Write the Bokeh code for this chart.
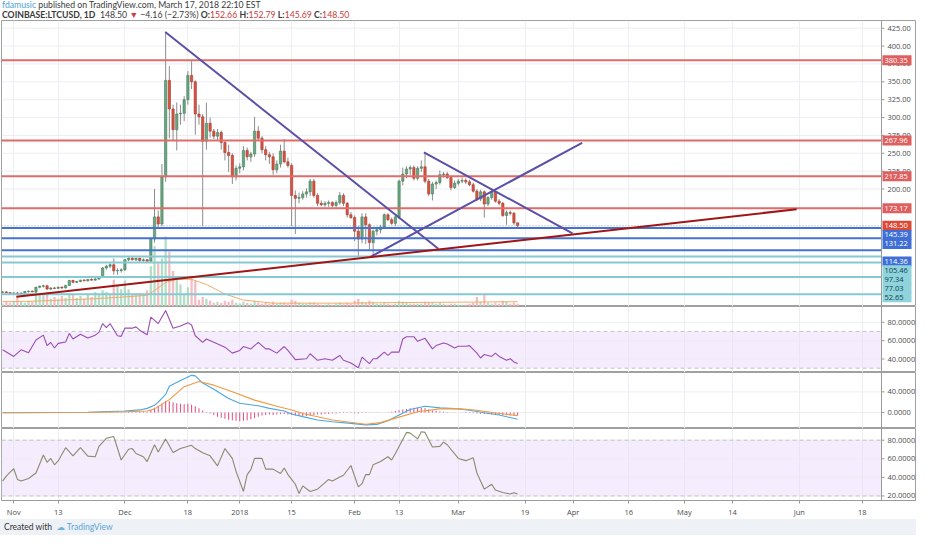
import numpy as np
from bokeh.plotting import figure
from bokeh.models import (Range1d, FixedTicker, Span, BoxAnnotation, Div, Grid, ColumnDataSource)
from bokeh.layouts import column
from bokeh.embed import file_html
from bokeh.resources import INLINE
from bokeh.core.properties import value

# ---------------- data (day 0 = 2017-11-01) ----------------
days = list(range(-3, 137))
opens = [55.5, 56, 55, 54, 54.5, 53.5, 54.5, 56.5, 57, 56,
         62.5, 64, 64.5, 60, 61.5, 61, 62.5, 61.5, 65, 72,
         69.5, 70.5, 72.5, 71.5, 73.5, 72.5, 74, 77, 89.5, 92,
         94, 85.5, 86, 87, 101, 103, 101, 103, 100, 101,
         99, 130, 161, 151, 217, 352, 312, 283, 305, 306,
         325, 359, 350, 305, 301, 267, 292, 281, 274, 279,
         265, 251, 247, 217, 229, 231, 254, 245, 249, 281,
         271, 255, 248, 245, 227, 235, 253, 238, 233, 191,
         187, 188, 193, 196, 211, 191, 180, 178, 180, 181,
         177, 181, 191, 180, 164, 160, 141, 130, 161, 150,
         125, 141, 143, 147, 164, 157, 152, 161, 211, 221,
         228, 230, 215, 229, 231, 211, 193, 207, 209, 220,
         221, 216, 202, 208, 211, 212, 210, 206, 197, 186,
         196, 179, 188, 196, 183, 180, 163, 167, 166, 152.66]
highs = [57, 57, 56, 55.5, 56, 55, 57, 58, 58, 63,
         65, 66, 66, 62.5, 63, 63.5, 64, 66, 73, 73,
         71.5, 73, 74, 74, 75, 75.5, 78, 91, 94, 96,
         103, 89, 89, 102, 106, 105, 104, 104, 103, 102,
         132, 200, 170, 235, 420, 372, 318, 321, 318, 330,
         365, 379, 352, 318, 305, 321, 300, 284, 284, 282,
         268, 262, 250, 233, 236, 260, 258, 252, 301, 288,
         274, 260, 252, 250, 240, 262, 270, 244, 236, 198,
         195, 197, 201, 214, 214, 194, 184, 183, 184, 183,
         184, 196, 194, 182, 168, 163, 148, 166, 166, 152,
         143, 146, 150, 166, 166, 160, 163, 213, 230, 232,
         233, 233, 232, 240, 251, 214, 210, 212, 226, 224,
         224, 218, 212, 214, 216, 215, 213, 209, 200, 199,
         198, 190, 198, 198, 186, 182, 170, 170, 168, 152.79]
lows = [54, 54.5, 53, 52.5, 53, 52.5, 54, 55, 55.5, 55,
        61, 62, 59, 58.5, 60, 60, 60.5, 61, 64.5, 68,
        68.5, 69.5, 71, 70.5, 72, 72, 73, 76, 87, 89,
        80, 80, 83, 85, 99, 100, 99, 98, 98, 97,
        98, 125, 145, 148, 210, 271, 267, 254, 290, 295,
        318, 340, 276, 290, 148, 255, 272, 270, 268, 255,
        240, 224, 207, 212, 222, 226, 240, 238, 245, 268,
        250, 240, 235, 220, 222, 230, 236, 230, 148, 137,
        180, 185, 188, 190, 188, 176, 176, 175, 175, 174,
        174, 178, 176, 160, 158, 127, 106, 124, 123, 114,
        106, 135, 138, 144, 155, 150, 148, 158, 205, 215,
        220, 212, 212, 224, 208, 190, 184, 200, 206, 216,
        214, 198, 200, 205, 208, 207, 204, 195, 183, 183,
        160, 176, 185, 181, 177, 161, 150, 163, 150, 145.69]
closes = [56, 55, 54, 54.5, 53.5, 54.5, 56.5, 57, 56, 62.5,
          64, 64.5, 60, 61.5, 61, 62.5, 61.5, 65, 72, 69.5,
          70.5, 72.5, 71.5, 73.5, 72.5, 74, 77, 89.5, 92, 94,
          85.5, 86, 87, 101, 103, 101, 103, 100, 101, 99,
          130, 161, 151, 217, 352, 312, 283, 305, 306, 325,
          359, 350, 305, 301, 267, 292, 281, 274, 279, 265,
          251, 247, 217, 229, 231, 254, 245, 249, 281, 271,
          255, 248, 245, 227, 235, 253, 238, 233, 191, 187,
          188, 193, 196, 211, 191, 180, 178, 180, 181, 177,
          181, 191, 180, 164, 160, 141, 130, 161, 150, 125,
          141, 143, 147, 164, 157, 152, 161, 211, 221, 228,
          230, 215, 229, 231, 211, 193, 207, 209, 220, 221,
          216, 202, 208, 211, 212, 210, 206, 197, 186, 196,
          179, 188, 196, 183, 180, 163, 167, 166, 152.66, 148.50]
volume = [3, 5, 4, 6, 10, 5, 4, 6, 5, 15,
          13, 12, 13, 8, 10, 8, 11, 9, 14, 13,
          9, 11, 8, 12, 10, 15, 12, 17, 15, 12,
          28, 23, 18, 27, 18, 13, 12, 14, 13, 17,
          42, 63, 45, 50, 73, 57, 37, 30, 23, 13,
          20, 32, 27, 7, 10, 8, 6, 4, 5, 4,
          6, 5, 7, 4, 3, 5, 4, 3, 6, 4,
          3, 4, 3, 5, 3, 4, 4, 3, 7, 6,
          4, 3, 3, 4, 4, 3, 2, 2, 3, 2,
          3, 4, 3, 4, 3, 6, 8, 5, 4, 6,
          5, 3, 3, 4, 3, 2, 3, 6, 5, 4,
          3, 3, 3, 3, 5, 4, 4, 3, 4, 3,
          2, 3, 3, 2, 2, 2, 3, 4, 10, 5,
          12, 4, 3, 4, 3, 6, 5, 3, 4, 3]
vol_ma_day = [-3, 5, 15, 23, 30, 36, 38, 41, 44, 48, 52, 57, 62, 70, 90, 100, 120, 136]
vol_ma_val = [5, 5.5, 7, 8.3, 10, 11.7, 16.7, 25, 28.3, 28.3, 23, 13, 6.7, 3.5, 3.5, 4, 4.5, 5]

red_levels = [380.35, 267.96, 217.85, 173.17]
blue_levels = [145.39, 131.22, 114.36]
cyan_levels = [105.46, 97.34, 77.03, 52.65]
last_price = 148.50

trend_x0 = [40.9, 110.7, 96.4, 0.7]
trend_y0 = [419.7, 251.2, 105.3, 49.1]
trend_x1 = [114.6, 150.8, 153.4, 211.3]
trend_y1 = [116.4, 138.0, 264.7, 171.7]

rsi_day = [-3, 0, 2, 4, 6, 8, 9, 10, 11, 12, 14, 15, 16, 18, 20, 22, 23, 24, 25, 26,
           28, 29, 30, 32, 33, 34, 36, 37, 39, 41, 43, 45, 47, 48, 49, 51, 52, 54, 57, 59,
           61, 62, 64, 66, 68, 69, 71, 73, 74, 76, 79, 80, 82, 84, 86, 88, 89, 91, 93, 94,
           96, 97, 98, 100, 101, 102, 104, 105, 106, 108, 109, 111, 113, 114, 116, 117, 119, 120, 122, 123,
           125, 126, 127, 129, 130, 131, 133, 134, 135, 136]
rsi_val = [50, 42.8, 50, 46.8, 60.7, 66, 54.6, 58, 52, 57, 58.5, 67.9, 61.8, 67, 62.8, 66, 69, 78.6, 74.3, 78.6,
           65.3, 64.7, 73.6, 73.6, 75, 71.4, 66.4, 85.7, 78.6, 92.9, 73.6, 76, 79.6, 77, 65.3, 58.2, 61.8, 58.2, 52.9, 46.4,
           49.3, 53.6, 51, 58.2, 51, 51, 46.4, 53.6, 49.3, 39.3, 40.3, 45.7, 38.6, 40.3, 38.6, 43.9, 38.6, 35.7, 30.4, 42.1,
           35, 40.3, 40.3, 47.5, 43.9, 47.5, 47.5, 61.8, 64.3, 64.3, 59.3, 62.5, 51, 54.6, 57.5, 56.4, 52.1, 53.9, 53.9, 54.6,
           46.4, 41.1, 45, 42.8, 46.4, 42.8, 38.6, 40.3, 36.8, 35]

macd_day = [-3, 10, 20, 30, 34, 36, 38, 39, 41, 42, 45, 48, 49, 51, 54, 58, 61, 66, 69, 73,
            75, 78, 82, 86, 91, 95, 98, 101, 104, 107, 111, 115, 119, 123, 127, 131, 136]
macd_val = [-0.5, 0, 0.5, 3, 5, 8, 14, 20, 35, 51, 62, 72, 71, 57, 45, 27, 18, 13, 8, 3,
            -3, -8, -14.5, -18, -21, -24, -23, -16, -5, 5.7, 12, 9, 7.6, 4.5, -0.6, -5, -13]
signal_day = [-3, 20, 30, 36, 38, 42, 46, 50, 54, 59, 65, 71, 75, 78, 86, 95, 99, 104, 109, 115,
              120, 125, 130, 136]
signal_val = [-0.5, 0, 1.5, 3, 7, 25, 50, 60, 53, 40, 24, 12, 5, -2, -14.5, -22.8, -19.6, -9, 1.5, 7,
              7.6, 4.5, -1, -6]
macd_hist = [0.3, 0.3, 0.4, 0.4, 0.5, 0.5, 0.5, 0.6, 0.6, 0.8,
             0.8, 0.8, 0.7, 0.7, 0.7, 0.8, 0.8, 0.9, 1, 1,
             1, 1, 1, 1.1, 1.1, 1.2, 1.3, 1.6, 1.8, 1.9,
             1.6, 1.5, 1.5, 1.8, 2, 2, 2, 1.8, 1.7, 1.6,
             5, 9, 13, 17, 22, 22, 20, 18, 17, 16,
             17, 15, 12, 8, 4, 1, -2, -5, -8, -10,
             -12, -14, -15, -16, -17, -16, -15, -13, -11, -8,
             -6, -5, -4, -5, -4, -3, -3, -4, -5, -6,
             -7, -7, -7, -6, -5, -4, -4, -3, -3, -2,
             -2, -1.5, -1, -1, -1, -1.5, -2, -1, -1, -0.5,
             -0.5, -0.5, -0.3, -0.2, 0.5, 1.5, 3, 4.5, 6, 7,
             8, 9, 9, 8.5, 8, 6, 4, 3, 2, 1.5,
             1, 0.5, 0.3, 0, -0.5, -1, -1, -1.5, -2, -2.5,
             -3, -3.5, -4, -4, -4.5, -5, -5.5, -6, -6, -6]

stoch_day = [-3, -2, 0, 1, 2, 4, 6, 8, 9, 10, 11, 12, 14, 16, 18, 20, 22, 23, 25, 27,
             29, 31, 32, 33, 35, 36, 38, 39, 41, 43, 45, 48, 49, 51, 53, 55, 57, 59, 60, 62,
             63, 64, 65, 67, 68, 70, 72, 73, 74, 75, 76, 77, 78, 80, 82, 85, 86, 88, 89, 91,
             93, 94, 95, 96, 97, 99, 101, 102, 103, 106, 107, 109, 110, 111, 113, 115, 116, 117, 120, 122,
             124, 125, 127, 129, 130, 132, 134, 135, 136]
stoch_val = [36, 41.3, 49.3, 37.8, 36, 38.8, 44.7, 64, 56.2, 60.4, 53.5, 57.7, 71.9, 63.2, 71.9, 62.9, 62.2, 73.4, 82.1, 83.9,
             58.7, 70.3, 71, 65.7, 62.2, 57, 75.1, 67.4, 81.4, 66.7, 71, 74.5, 71, 66.4, 63.2, 52.4, 71, 60.4, 46.5, 24.8,
             43, 48.3, 60.4, 60.4, 48.9, 48.9, 44.1, 50, 43, 37.8, 32.6, 22.7, 30.8, 24.8, 27.3, 37.8, 36, 40.5, 42.3, 52.8,
             29.8, 33.2, 43, 43, 53.5, 57, 62.2, 58.7, 65.7, 88.4, 87.6, 81.4, 89.1, 88.4, 72.7, 73.4, 77.9, 75.1, 60.4, 58,
             61.2, 44.7, 27.3, 32.6, 26.3, 23.8, 22.1, 23.5, 22.1]

x_ticks = [0, 12, 30, 47, 61, 75, 92, 104, 120, 138, 151, 166, 181, 194, 212, 229]
x_tick_labels = ["Nov", "13", "Dec", "18", "2018", "15", "Feb", "13", "Mar", "19",
                 "Apr", "16", "May", "14", "Jun", "18"]
price_ticks = [200, 225, 250, 275, 300, 325, 350, 375, 400, 425]
rsi_ticks = [40, 60, 80]
macd_ticks = [0, 40]
stoch_ticks = [20, 40, 60, 80]

# ---------------- layout / style ----------------
FONT = "Open Sans"
FS = "7.5px"
FRAME_W = 914
X0, AXIS_X = -3.3, 234.2
PPD = 880.0 / (AXIS_X - X0)          # pixels per day left of the scale
X1 = X0 + FRAME_W / PPD
MAIN_H, RSI_H, MACD_H, ST_H = 286, 66, 56, 72
PY0, PY1 = 35.6, 435.8
GRID = "#eceef2"
AXC = "#9a9a9a"
TXT = "#4d4d4d"
UP, DN = "#6ba583", "#d75442"
UP_L, DN_L = "#3f7d55", "#a8392b"
x_range = Range1d(X0, X1)


def make_fig(frame_h, y0, y1, yticks, fmt, bottom_axis=False):
    p = figure(frame_width=FRAME_W, frame_height=frame_h, x_range=x_range,
               y_range=Range1d(y0, y1), output_backend="svg", toolbar_location=None,
               y_axis_location=None, x_axis_location="below" if bottom_axis else None,
               min_border_left=1, min_border_right=1, min_border_top=0, min_border_bottom=0,
               outline_line_color="#a0a0a0", outline_line_width=1,
               background_fill_color="white", border_fill_color="white")
    p.xgrid.visible = False
    p.ygrid.visible = False
    vg = Grid(dimension=0, ticker=FixedTicker(ticks=[t for t in x_ticks if t < AXIS_X]),
              grid_line_color=GRID)
    p.add_layout(vg)
    # horizontal grid, ending at the price scale
    p.segment(x0=X0, x1=AXIS_X, y0=yticks, y1=yticks, line_color=GRID, line_width=1)
    # price scale: axis line, ticks and labels on the right
    p.add_layout(Span(location=AXIS_X, dimension="height", line_color=AXC, line_width=1))
    p.segment(x0=AXIS_X, x1=AXIS_X + 3.0 / PPD, y0=yticks, y1=yticks, line_color=AXC)
    p.text(x=[AXIS_X] * len(yticks), y=yticks, text=[fmt % t for t in yticks],
           x_offset=6, text_baseline="middle", text_align="left",
           text_font=value(FONT), text_font_size=FS, text_color=TXT)
    if bottom_axis:
        xa = p.xaxis[0]
        xa.ticker = FixedTicker(ticks=x_ticks)
        xa.major_label_overrides = {t: lab for t, lab in zip(x_ticks, x_tick_labels)}
        xa.axis_line_color = AXC
        xa.major_tick_line_color = AXC
        xa.major_tick_out = 3
        xa.major_tick_in = 0
        xa.minor_tick_out = 0
        xa.minor_tick_in = 0
        xa.major_label_standoff = 3
        xa.major_label_text_font = FONT
        xa.major_label_text_font_size = FS
        xa.major_label_text_color = TXT
    return p


# ---------------- main price pane ----------------
p = make_fig(MAIN_H, PY0, PY1, price_ticks, "%.2f")
p.extra_y_ranges = {"vol": Range1d(0, 298)}

o = np.array(opens); c = np.array(closes)
up = c >= o
src = ColumnDataSource(dict(
    x=days, o=o, h=highs, l=lows, c=c,
    top=np.maximum(o, c), bot=np.minimum(o, c),
    fill=[UP if u else DN for u in up], line=[UP_L if u else DN_L for u in up],
    vol=volume, vcol=["#b3dec6" if u else "#f4bdc2" for u in up]))

p.vbar(x="x", width=0.62, top="vol", bottom=0, y_range_name="vol", fill_color="vcol",
       line_color=None, source=src)
p.line(vol_ma_day, vol_ma_val, y_range_name="vol", line_color="#f2a35e", line_width=1, line_alpha=0.9)
p.segment(x0="x", y0="l", x1="x", y1="h", line_color="#8c8c8e", line_width=1, source=src)
p.vbar(x="x", width=0.62, top="top", bottom="bot", fill_color="fill", line_color="line",
       line_width=0.6, source=src)

lvl_y = red_levels + blue_levels + cyan_levels
lvl_col = (["#df6b6b"] * len(red_levels) + ["#4673cf"] * len(blue_levels) +
           ["#86c9d3"] * len(cyan_levels))
p.segment(x0=X0, x1=AXIS_X, y0=lvl_y, y1=lvl_y, line_color=lvl_col, line_width=2)
p.segment(x0=X0, x1=AXIS_X, y0=last_price, y1=last_price, line_color="#9a9a9a",
          line_width=1, line_dash="1 2")

p.segment(x0=trend_x0, y0=trend_y0, x1=trend_x1, y1=trend_y1,
          line_color=["#5b4fa6", "#5b4fa6", "#5b4fa6", "#a01515"], line_width=2)

# boxed price labels on the scale, stacked like the reference
REF_H = 297.0
stack_ref_px = {145.39: 222.7, 131.22: 232.0, 114.36: 250.3, 105.46: 259.3,
                97.34: 268.7, 77.03: 278.0, 52.65: 287.3}
unit_per_px = (PY1 - PY0) / MAIN_H
lab_specs = ([(v, "#df5f5f", "white") for v in red_levels] +
             [(last_price, "#dc4a36", "white")] +
             [(v, "#3f6fd6", "white") for v in blue_levels] +
             [(v, "#8fd4dd", "#15414a") for v in cyan_levels])
box_y, box_bg, box_fg, box_txt = [], [], [], []
for v, bg, fg in lab_specs:
    yy = PY1 - stack_ref_px[v] * MAIN_H / REF_H * unit_per_px if v in stack_ref_px else v
    box_y.append(yy); box_bg.append(bg); box_fg.append(fg); box_txt.append("%.2f" % v)
BOX_W = 29
p.rect(x=[AXIS_X + (BOX_W / 2.0 + 1) / PPD] * len(box_y), y=box_y, width=BOX_W, height=10,
       width_units="screen", height_units="screen", fill_color=box_bg, line_color=None)
p.text(x=[AXIS_X] * len(box_y), y=box_y, text=box_txt, x_offset=3, text_baseline="middle",
       text_align="left", text_font=value(FONT), text_font_size=FS, text_color=box_fg)

# ---------------- RSI pane ----------------
r = make_fig(RSI_H, 25.3, 97.2, rsi_ticks, "%.4f")
r.add_layout(BoxAnnotation(bottom=30, top=70, right=AXIS_X, fill_color="#ecdcfb", fill_alpha=0.55,
                           line_color=None, level="underlay"))
r.segment(x0=X0, x1=AXIS_X, y0=[30, 70], y1=[30, 70], line_color="#c4c4c4",
          line_width=1, line_dash="4 3")
r.line(rsi_day, rsi_val, line_color="#9a4db5", line_width=1.1)

# ---------------- MACD pane ----------------
m = make_fig(MACD_H, -31, 77.5, macd_ticks, "%.4f")
m.vbar(x=days, width=0.28, top=macd_hist, bottom=0, fill_color="#e2507c", line_color=None)
m.line(macd_day, macd_val, line_color="#4aa7e3", line_width=1.1)
m.line(signal_day, signal_val, line_color="#f09a45", line_width=1.1)

# ---------------- Stochastic pane ----------------
s = make_fig(ST_H, 15.1, 92.6, stoch_ticks, "%.4f", bottom_axis=True)
s.add_layout(BoxAnnotation(bottom=20, top=80, right=AXIS_X, fill_color="#ecdcfb", fill_alpha=0.55,
                           line_color=None, level="underlay"))
s.segment(x0=X0, x1=AXIS_X, y0=[20, 80], y1=[20, 80], line_color="#c4c4c4",
          line_width=1, line_dash="4 3")
s.line(stoch_day, stoch_val, line_color="#8c8a6c", line_width=1.1)

# ---------------- header / footer ----------------
RED = "#c8393b"
header_html = (
    '<div><span style="color:#4e9fd6">fdamusic</span> published on TradingView.com, '
    'March 17, 2018 22:10 EST</div>'
    '<div><b>COINBASE:LTCUSD, 1D</b>&nbsp; 148.50 <span style="color:#d9363e">&#9660;</span> '
    '&minus;4.16 (&minus;2.73%) '
    '<b>O:</b><span style="color:' + RED + '">152.66</span> '
    '<b>H:</b><span style="color:' + RED + '">152.79</span> '
    '<b>L:</b><span style="color:' + RED + '">145.69</span> '
    '<b>C:</b><span style="color:' + RED + '">148.50</span></div>')
header = Div(text=header_html, width=916, height=20, margin=(0, 0, 0, 0),
             styles={"font-family": "Lato", "font-size": "8.7px", "line-height": "10px",
                     "color": "#3a3a3a", "padding-left": "2px"})
footer = Div(
    text=('Created with&nbsp; <span style="color:#6fb5e0;font-family:DejaVu Sans">&#9729;</span>'
          '&nbsp;<span style="color:#5aa6d8">TradingView</span>'),
    width=916, height=16, margin=(0, 0, 0, 0),
    styles={"font-family": "Lato", "font-size": "8.5px", "line-height": "16px",
            "color": "#333", "background-color": "#eef1f5", "padding-left": "4px"})

layout = column(header, p, r, m, s, footer, spacing=0)
open("out.html", "w").write(file_html(layout, INLINE))
